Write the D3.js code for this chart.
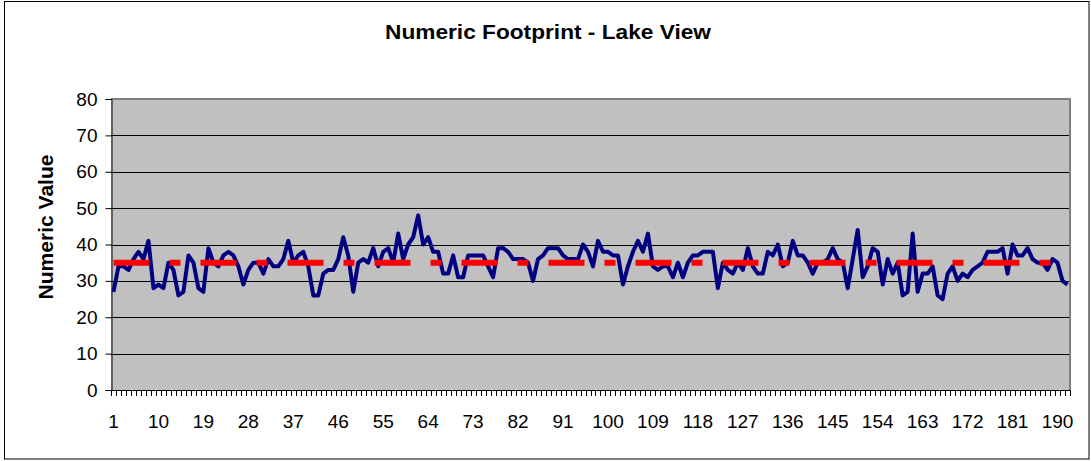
<!DOCTYPE html>
<html>
<head>
<meta charset="utf-8">
<script src="https://cdn.jsdelivr.net/npm/d3@7"></script>
<style>
  html, body { margin: 0; padding: 0; background: #fff; }
  svg { display: block; }
  text { font-family: "Liberation Sans", Arial, sans-serif; fill: #000; }
</style>
</head>
<body>
<svg id="chart" width="1091" height="461"></svg>
<script>
const chartTitle = "Numeric Footprint - Lake View";
const yAxisTitle = "Numeric Value";
const values = [
  27,34,34,33,36,38,36,41,28,29,
  28,35,33,26,27,37,35,28,27,39,
  35,34,37,38,37,34,29,33,35,35,
  32,36,34,34,36,41,35,37,38,34,
  26,26,32,33,33,36,42,37,27,35,
  36,35,39,34,38,39,35,43,36,40,
  42,48,40,42,38,38,32,32,37,31,
  31,37,37,37,37,34,31,39,39,38,
  36,36,36,35,30,36,37,39,39,39,
  37,36,36,36,40,38,34,41,38,38,
  37,37,29,34,38,41,38,43,34,33,
  34,34,31,35,31,35,37,37,38,38,
  38,28,35,33,32,35,33,39,34,32,
  32,38,37,40,34,35,41,37,37,35,
  32,35,35,36,39,36,35,28,36,44,
  31,34,39,38,29,36,32,35,26,27,
  43,27,32,32,34,26,25,32,34,30,
  32,31,33,34,35,38,38,38,39,32,
  40,37,37,39,36,35,35,33,36,35,
  30,29
];
const categories = values.map((d, i) => i + 1);
const targetValue = 35;
const targets = categories.map(() => targetValue);
const xTickLabels = [1,10,19,28,37,46,55,64,73,82,91,100,109,118,127,136,145,154,163,172,181,190];
const yTicks = [0,10,20,30,40,50,60,70,80];

const svg = d3.select("#chart");
const plot = { left: 111, right: 1070, top: 99, bottom: 390 };

// outer border
svg.append("rect")
  .attr("x", 4.5).attr("y", 1.5).attr("width", 1084.5).attr("height", 457.5)
  .attr("fill", "#fff").attr("stroke", "#000").attr("stroke-width", 1);

const x = d3.scaleBand().domain(categories).range([plot.left, plot.right]).padding(0);
const y = d3.scaleLinear().domain([0, 80]).range([plot.bottom, plot.top]);
const cx = d => x(d) + x.bandwidth() / 2;

// plot area
svg.append("rect")
  .attr("x", plot.left).attr("y", plot.top)
  .attr("width", plot.right - plot.left).attr("height", plot.bottom - plot.top)
  .attr("fill", "#C0C0C0");

// gridlines
svg.append("g").selectAll("line").data(yTicks.filter(t => t > 0)).join("line")
  .attr("x1", plot.left).attr("x2", plot.right)
  .attr("y1", d => Math.round(y(d)) + 0.5).attr("y2", d => Math.round(y(d)) + 0.5)
  .attr("stroke", "#000").attr("stroke-width", 1);

// plot border (gray) top & right
svg.append("path")
  .attr("d", `M${plot.left},${plot.top} H${plot.right} V${plot.bottom}`)
  .attr("fill", "none").attr("stroke", "#808080").attr("stroke-width", 2);

// y axis
const yAxis = d3.axisLeft(y).tickValues(yTicks).tickSize(6).tickPadding(8);
const gy = svg.append("g").attr("transform", `translate(${plot.left + 0.5},0)`).call(yAxis);
gy.select(".domain").attr("stroke", "#000");
gy.selectAll(".tick line").attr("stroke", "#000");
gy.selectAll(".tick text").attr("font-size", 19).attr("font-family", "Liberation Sans, Arial, sans-serif").attr("fill", "#000");

// x axis: tick marks at category boundaries
const boundaries = categories.map(c => x(c)).concat([plot.right]);
svg.append("g").selectAll("line").data(boundaries).join("line")
  .attr("x1", d => Math.round(d) + 0.5).attr("x2", d => Math.round(d) + 0.5)
  .attr("y1", plot.bottom).attr("y2", plot.bottom + 6)
  .attr("stroke", "#000").attr("stroke-width", 1);
svg.append("line")
  .attr("x1", plot.left).attr("x2", plot.right)
  .attr("y1", plot.bottom + 0.5).attr("y2", plot.bottom + 0.5)
  .attr("stroke", "#000");
svg.append("g").selectAll("text").data(xTickLabels).join("text")
  .attr("x", d => cx(d)).attr("y", 428)
  .attr("text-anchor", "middle").attr("font-size", 19)
  .text(d => d);

// data line
const line = d3.line().x((d, i) => cx(categories[i])).y(d => y(d));
svg.append("path").datum(values)
  .attr("d", line)
  .attr("fill", "none").attr("stroke", "#000080").attr("stroke-width", 4)
  .attr("stroke-linejoin", "round");

// target dashed line
svg.append("path").datum(targets)
  .attr("d", line)
  .attr("fill", "none").attr("stroke", "#FF0000").attr("stroke-width", 6)
  .attr("stroke-dasharray", "36,20,11,20");

// titles
svg.append("text")
  .attr("x", 548).attr("y", 39).attr("text-anchor", "middle")
  .attr("font-size", 20).attr("font-weight", "bold")
  .attr("textLength", 326).attr("lengthAdjust", "spacingAndGlyphs")
  .text(chartTitle);
svg.append("text")
  .attr("transform", `translate(53,227) rotate(-90)`)
  .attr("text-anchor", "middle")
  .attr("font-size", 20.5).attr("font-weight", "bold")
  .attr("textLength", 145).attr("lengthAdjust", "spacingAndGlyphs")
  .text(yAxisTitle);
</script>
</body>
</html>
